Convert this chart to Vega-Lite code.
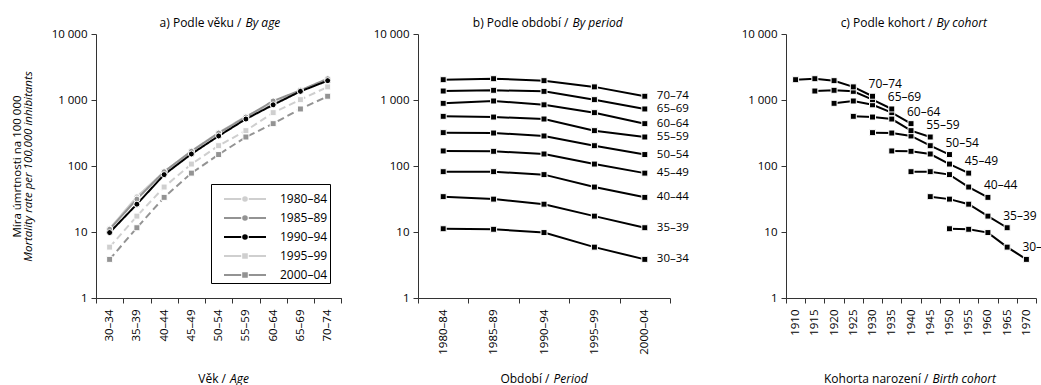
{
  "$schema": "https://vega.github.io/schema/vega-lite/v6.json",
  "autosize": {"type": "pad"},
  "padding": {"left": 0, "top": 16, "right": 0, "bottom": 6},
  "spacing": 10,
  "config": {
    "font": "Open Sans",
    "view": {"stroke": null},
    "axis": {
      "labelFont": "Open Sans", "titleFont": "Open Sans",
      "labelFontSize": 11.5, "titleFontSize": 12, "titleFontWeight": "normal",
      "labelColor": "#000", "titleColor": "#000",
      "domainColor": "#333", "tickColor": "#333", "tickSize": 5, "grid": false, "labelPadding": 4
    },
    "legend": {"labelFont": "Open Sans"}
  },
  "datasets": {
    "rates": [
      {"age": "30–34", "period": "1980–84", "cohort": 1950, "rate": 11.2},
      {"age": "30–34", "period": "1985–89", "cohort": 1955, "rate": 11.0},
      {"age": "30–34", "period": "1990–94", "cohort": 1960, "rate": 9.8},
      {"age": "30–34", "period": "1995–99", "cohort": 1965, "rate": 5.9},
      {"age": "30–34", "period": "2000–04", "cohort": 1970, "rate": 3.85},
      {"age": "35–39", "period": "1980–84", "cohort": 1945, "rate": 34.3},
      {"age": "35–39", "period": "1985–89", "cohort": 1950, "rate": 31.5},
      {"age": "35–39", "period": "1990–94", "cohort": 1955, "rate": 26.4},
      {"age": "35–39", "period": "1995–99", "cohort": 1960, "rate": 17.4},
      {"age": "35–39", "period": "2000–04", "cohort": 1965, "rate": 11.6},
      {"age": "40–44", "period": "1980–84", "cohort": 1940, "rate": 82},
      {"age": "40–44", "period": "1985–89", "cohort": 1945, "rate": 82},
      {"age": "40–44", "period": "1990–94", "cohort": 1950, "rate": 74},
      {"age": "40–44", "period": "1995–99", "cohort": 1955, "rate": 48},
      {"age": "40–44", "period": "2000–04", "cohort": 1960, "rate": 33.5},
      {"age": "45–49", "period": "1980–84", "cohort": 1935, "rate": 169},
      {"age": "45–49", "period": "1985–89", "cohort": 1940, "rate": 167},
      {"age": "45–49", "period": "1990–94", "cohort": 1945, "rate": 152},
      {"age": "45–49", "period": "1995–99", "cohort": 1950, "rate": 107},
      {"age": "45–49", "period": "2000–04", "cohort": 1955, "rate": 78},
      {"age": "50–54", "period": "1980–84", "cohort": 1930, "rate": 320},
      {"age": "50–54", "period": "1985–89", "cohort": 1935, "rate": 316},
      {"age": "50–54", "period": "1990–94", "cohort": 1940, "rate": 285},
      {"age": "50–54", "period": "1995–99", "cohort": 1945, "rate": 203},
      {"age": "50–54", "period": "2000–04", "cohort": 1950, "rate": 149},
      {"age": "55–59", "period": "1980–84", "cohort": 1925, "rate": 566},
      {"age": "55–59", "period": "1985–89", "cohort": 1930, "rate": 552},
      {"age": "55–59", "period": "1990–94", "cohort": 1935, "rate": 515},
      {"age": "55–59", "period": "1995–99", "cohort": 1940, "rate": 343},
      {"age": "55–59", "period": "2000–04", "cohort": 1945, "rate": 275},
      {"age": "60–64", "period": "1980–84", "cohort": 1920, "rate": 891},
      {"age": "60–64", "period": "1985–89", "cohort": 1925, "rate": 966},
      {"age": "60–64", "period": "1990–94", "cohort": 1930, "rate": 845},
      {"age": "60–64", "period": "1995–99", "cohort": 1935, "rate": 643},
      {"age": "60–64", "period": "2000–04", "cohort": 1940, "rate": 438},
      {"age": "65–69", "period": "1980–84", "cohort": 1915, "rate": 1368},
      {"age": "65–69", "period": "1985–89", "cohort": 1920, "rate": 1403},
      {"age": "65–69", "period": "1990–94", "cohort": 1925, "rate": 1352},
      {"age": "65–69", "period": "1995–99", "cohort": 1930, "rate": 1011},
      {"age": "65–69", "period": "2000–04", "cohort": 1935, "rate": 731},
      {"age": "70–74", "period": "1980–84", "cohort": 1910, "rate": 2030},
      {"age": "70–74", "period": "1985–89", "cohort": 1915, "rate": 2100},
      {"age": "70–74", "period": "1990–94", "cohort": 1920, "rate": 1962},
      {"age": "70–74", "period": "1995–99", "cohort": 1925, "rate": 1580},
      {"age": "70–74", "period": "2000–04", "cohort": 1930, "rate": 1140}
    ]
  },
  "data": {"name": "rates"},
  "hconcat": [
    {
      "width": 245.3, "height": 264,
      "resolve": {"axis": {"x": "independent", "y": "independent"}},
      "layer": [
        {
          "mark": {"type": "line", "strokeWidth": 2},
          "encoding": {
            "x": {"field": "age", "type": "ordinal", "bandPosition": 0.5,
              "scale": {"type": "band", "paddingInner": 0, "paddingOuter": 0},
              "axis": {"orient": "bottom", "tickBand": "extent", "labelAngle": -90, "labelPadding": 6, "labelOverlap": false,
                "title": "Věk /", "titleX": 129.5, "titleY": 84, "titleAlign": "right", "titleBaseline": "alphabetic"}},
            "y": {"field": "rate", "type": "quantitative", "scale": {"type": "log", "domain": [1, 10000]},
              "axis": {"orient": "left", "values": [1, 10, 100, 1000, 10000],
                "labelExpr": "datum.value >= 1000 ? replace(format(datum.value, ','), ',', ' ') : datum.label",
                "title": "Mortality rate per 100,000 inhibitants", "titleFontStyle": "italic", "titleFontSize": 11.5,
                "titleX": -64.5, "titleBaseline": "alphabetic", "minExtent": 96}},
            "color": {"field": "period", "type": "nominal",
              "scale": {"range": ["#cfcfcf", "#939393", "#000000", "#cfcfcf", "#939393"]},
              "legend": {"orient": "none", "legendX": 115, "legendY": 150, "title": null,
                "strokeColor": "#000", "fillColor": "#fff", "padding": 2, "rowPadding": -5.5,
                "labelOffset": 41, "symbolSize": 576, "symbolStrokeWidth": 2, "labelFontSize": 12, "labelColor": "#000",
                "encode": {"symbols": {"update": {
                  "shape": {"signal": "datum.value === '1995–99' || datum.value === '2000–04' ? 'M-0.167,0 H1.267 M1.9,0 H3.333 M1.433,-0.15 H1.733 V0.15 H1.433 Z' : 'M-0.167,0 H1.267 M1.9,0 H3.333 M1.733,0 A0.15,0.15 0 1,1 1.433,0 A0.15,0.15 0 1,1 1.733,0 Z'"},
                  "fill": {"scale": "color", "field": "value"},
                  "strokeWidth": {"value": 2},
                  "opacity": {"value": 1}
                }}}}},
            "strokeDash": {"field": "period", "type": "nominal",
              "scale": {"range": [[1, 0], [1, 0], [1, 0], [7, 4], [7, 4]]}}
          }
        },
        {
          "mark": {"type": "point", "filled": true, "opacity": 1, "stroke": "white", "strokeWidth": 1, "size": 36},
          "encoding": {
            "x": {"field": "age", "type": "ordinal", "bandPosition": 0.5,
              "scale": {"type": "band", "paddingInner": 0, "paddingOuter": 0},
              "axis": {"orient": "top", "domain": false, "ticks": false, "labels": false,
                "title": "a) Podle věku /", "titleX": 145, "titleY": -8, "titleAlign": "right", "titleBaseline": "alphabetic"}},
            "y": {"field": "rate", "type": "quantitative", "scale": {"type": "log", "domain": [1, 10000]},
              "axis": {"orient": "left", "domain": false, "ticks": false, "labels": false,
                "title": "Míra úmrtnosti na 100 000", "titleFontSize": 11.5, "titleX": -75.3, "titleBaseline": "alphabetic"}},
            "color": {"field": "period", "type": "nominal", "legend": null},
            "shape": {"field": "period", "type": "nominal",
              "scale": {"range": ["circle", "circle", "circle", "square", "square"]}, "legend": null}
          }
        },
        {
          "mark": {"type": "point", "opacity": 0},
          "encoding": {
            "x": {"field": "age", "type": "ordinal", "bandPosition": 0.5,
              "scale": {"type": "band", "paddingInner": 0, "paddingOuter": 0},
              "axis": {"orient": "bottom", "domain": false, "ticks": false, "labels": false,
                "title": "Age", "titleFontStyle": "italic", "titleX": 133.5, "titleY": 84, "titleAlign": "left", "titleBaseline": "alphabetic"}},
            "y": {"field": "rate", "type": "quantitative", "scale": {"type": "log", "domain": [1, 10000]}, "axis": null}
          }
        },
        {
          "mark": {"type": "point", "opacity": 0},
          "encoding": {
            "x": {"field": "age", "type": "ordinal", "bandPosition": 0.5,
              "scale": {"type": "band", "paddingInner": 0, "paddingOuter": 0},
              "axis": {"orient": "top", "domain": false, "ticks": false, "labels": false,
                "title": "By age", "titleFontStyle": "italic", "titleX": 149, "titleY": -8, "titleAlign": "left", "titleBaseline": "alphabetic"}},
            "y": {"field": "rate", "type": "quantitative", "scale": {"type": "log", "domain": [1, 10000]}, "axis": null}
          }
        }
      ]
    },
    {
      "width": 252, "height": 264,
      "resolve": {"axis": {"x": "independent", "y": "independent"}},
      "layer": [
        {
          "mark": {"type": "line", "strokeWidth": 2, "color": "#000"},
          "encoding": {
            "x": {"field": "period", "type": "ordinal", "bandPosition": 0.5,
              "scale": {"type": "band", "paddingInner": 0, "paddingOuter": 0},
              "axis": {"orient": "bottom", "tickBand": "extent", "labelAngle": -90, "labelPadding": 6, "labelOverlap": false,
                "title": "Období /", "titleX": 131, "titleY": 84, "titleAlign": "right", "titleBaseline": "alphabetic"}},
            "y": {"field": "rate", "type": "quantitative", "scale": {"type": "log", "domain": [1, 10000]},
              "axis": {"orient": "left", "values": [1, 10, 100, 1000, 10000],
                "labelExpr": "datum.value >= 1000 ? replace(format(datum.value, ','), ',', ' ') : datum.label",
                "title": null, "minExtent": 66}},
            "detail": {"field": "age", "type": "nominal"}
          }
        },
        {
          "mark": {"type": "square", "size": 36, "filled": true, "fill": "#000", "stroke": "white", "strokeWidth": 1, "opacity": 1},
          "encoding": {
            "x": {"field": "period", "type": "ordinal", "bandPosition": 0.5,
              "scale": {"type": "band", "paddingInner": 0, "paddingOuter": 0},
              "axis": {"orient": "top", "domain": false, "ticks": false, "labels": false,
                "title": "b) Podle období /", "titleX": 150, "titleY": -8, "titleAlign": "right", "titleBaseline": "alphabetic"}},
            "y": {"field": "rate", "type": "quantitative", "scale": {"type": "log", "domain": [1, 10000]}, "axis": null}
          }
        },
        {
          "transform": [{"filter": "datum.period === '2000–04'"}],
          "mark": {"type": "text", "align": "left", "baseline": "middle", "dx": 12, "fontSize": 11.5},
          "encoding": {
            "x": {"field": "period", "type": "ordinal", "bandPosition": 0.5,
              "scale": {"type": "band", "paddingInner": 0, "paddingOuter": 0},
              "axis": {"orient": "bottom", "domain": false, "ticks": false, "labels": false,
                "title": "Period", "titleFontStyle": "italic", "titleX": 135, "titleY": 84, "titleAlign": "left", "titleBaseline": "alphabetic"}},
            "y": {"field": "rate", "type": "quantitative", "scale": {"type": "log", "domain": [1, 10000]}, "axis": null},
            "text": {"field": "age", "type": "nominal"}
          }
        },
        {
          "mark": {"type": "point", "opacity": 0},
          "encoding": {
            "x": {"field": "period", "type": "ordinal", "bandPosition": 0.5,
              "scale": {"type": "band", "paddingInner": 0, "paddingOuter": 0},
              "axis": {"orient": "top", "domain": false, "ticks": false, "labels": false,
                "title": "By period", "titleFontStyle": "italic", "titleX": 154, "titleY": -8, "titleAlign": "left", "titleBaseline": "alphabetic"}},
            "y": {"field": "rate", "type": "quantitative", "scale": {"type": "log", "domain": [1, 10000]}, "axis": null}
          }
        }
      ]
    },
    {
      "width": 250, "height": 264,
      "resolve": {"axis": {"x": "independent", "y": "independent"}},
      "layer": [
        {
          "mark": {"type": "line", "strokeWidth": 2, "color": "#000"},
          "encoding": {
            "x": {"field": "cohort", "type": "ordinal", "bandPosition": 0.5,
              "scale": {"type": "band", "paddingInner": 0, "paddingOuter": 0},
              "axis": {"orient": "bottom", "tickBand": "extent", "labelAngle": -90, "labelPadding": 6, "labelOverlap": false,
                "title": "Kohorta narození /", "titleX": 142, "titleY": 84, "titleAlign": "right", "titleBaseline": "alphabetic"}},
            "y": {"field": "rate", "type": "quantitative", "scale": {"type": "log", "domain": [1, 10000]},
              "axis": {"orient": "left", "values": [1, 10, 100, 1000, 10000],
                "labelExpr": "datum.value >= 1000 ? replace(format(datum.value, ','), ',', ' ') : datum.label",
                "title": null, "minExtent": 87}},
            "detail": {"field": "age", "type": "nominal"}
          }
        },
        {
          "mark": {"type": "square", "size": 36, "filled": true, "fill": "#000", "stroke": "white", "strokeWidth": 1, "opacity": 1},
          "encoding": {
            "x": {"field": "cohort", "type": "ordinal", "bandPosition": 0.5,
              "scale": {"type": "band", "paddingInner": 0, "paddingOuter": 0},
              "axis": {"orient": "top", "domain": false, "ticks": false, "labels": false,
                "title": "c) Podle kohort /", "titleX": 146, "titleY": -8, "titleAlign": "right", "titleBaseline": "alphabetic"}},
            "y": {"field": "rate", "type": "quantitative", "scale": {"type": "log", "domain": [1, 10000]}, "axis": null}
          }
        },
        {
          "transform": [{"filter": "datum.period === '2000–04'"}],
          "mark": {"type": "text", "align": "left", "baseline": "middle", "dx": -4, "dy": -12, "fontSize": 12},
          "encoding": {
            "x": {"field": "cohort", "type": "ordinal", "bandPosition": 0.5,
              "scale": {"type": "band", "paddingInner": 0, "paddingOuter": 0},
              "axis": {"orient": "bottom", "domain": false, "ticks": false, "labels": false,
                "title": "Birth cohort", "titleFontStyle": "italic", "titleX": 146, "titleY": 84, "titleAlign": "left", "titleBaseline": "alphabetic"}},
            "y": {"field": "rate", "type": "quantitative", "scale": {"type": "log", "domain": [1, 10000]}, "axis": null},
            "text": {"field": "age", "type": "nominal"}
          }
        },
        {
          "mark": {"type": "point", "opacity": 0},
          "encoding": {
            "x": {"field": "cohort", "type": "ordinal", "bandPosition": 0.5,
              "scale": {"type": "band", "paddingInner": 0, "paddingOuter": 0},
              "axis": {"orient": "top", "domain": false, "ticks": false, "labels": false,
                "title": "By cohort", "titleFontStyle": "italic", "titleX": 150, "titleY": -8, "titleAlign": "left", "titleBaseline": "alphabetic"}},
            "y": {"field": "rate", "type": "quantitative", "scale": {"type": "log", "domain": [1, 10000]}, "axis": null}
          }
        }
      ]
    }
  ]
}
